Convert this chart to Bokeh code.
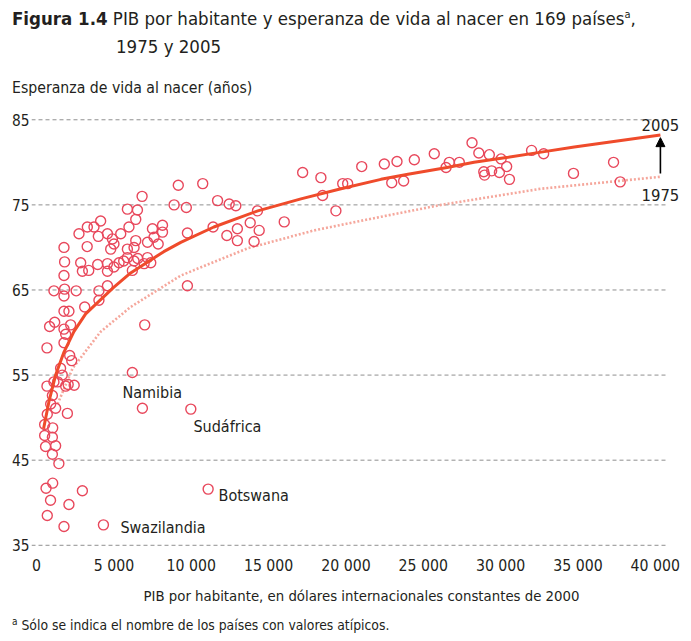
from bokeh.plotting import figure
from bokeh.layouts import column
from bokeh.models import Range1d, FixedTicker, Label, Arrow, NormalHead, Div
from bokeh.embed import file_html
from bokeh.resources import INLINE

# ---------------- data ----------------
gdp_2005 = [1770, 4320, 690, 900, 2090, 610, 1040, 2960, 11090, 1440,
            1020, 580, 1230, 520, 1020, 520, 1040, 1990, 1230, 690,
            910, 1020, 670, 1120, 1360, 1880, 2040, 2430, 1550, 1660,
            2140, 2270, 670, 1770, 1880, 1770, 840, 1170, 2200, 6990,
            1770, 2090, 3110, 4030, 1120, 1770, 2560, 4030, 4580, 9750,
            1770, 1810, 2850, 2960, 3370, 3950, 4580, 4580, 5000, 5330,
            5630, 5870, 6190, 6300, 6540, 7170, 7380, 6950, 1770, 3270,
            4790, 5870, 6300, 6410, 2740, 3280, 3710, 4140, 3990, 4580,
            4900, 5440, 5970, 6410, 5870, 6520, 6820, 7490, 8140, 8140,
            7170, 7590, 7860, 8890, 9160, 9680, 10740, 11700, 12450, 12880,
            11410, 12300, 12980, 12980, 9750, 13810, 14280, 14390, 14060, 16010,
            17200, 18380, 18490, 19350, 19790, 20110, 21020, 22480, 22960, 23300,
            23730, 24420, 25710, 26470, 26680, 27330, 28150, 28590, 29270, 28910,
            28960, 29420, 29920, 30030, 30390, 30570, 32000, 32780, 34710, 37300,
            37730, 6190, 6840, 9970, 1810, 5000]
life_2005 = [37.2, 37.4, 38.5, 40.3, 39.8, 41.7, 42.3, 41.4, 41.6, 44.6,
             45.7, 46.6, 46.7, 47.9, 47.7, 49.2, 48.8, 50.5, 51.1, 50.4,
             51.6, 52.6, 53.7, 54.2, 54.2, 53.7, 53.9, 53.8, 55.8, 55.0,
             57.3, 56.7, 58.2, 58.8, 59.8, 60.4, 60.7, 61.2, 60.9, 60.9,
             62.5, 62.5, 63.0, 63.8, 64.9, 64.3, 64.9, 64.9, 65.5, 65.5,
             66.7, 68.3, 68.2, 67.2, 67.3, 68.0, 68.1, 67.2, 67.7, 68.2,
             68.4, 68.8, 67.3, 68.4, 68.7, 68.8, 68.2, 68.1, 70.0, 70.1,
             69.8, 69.8, 70.0, 70.8, 71.6, 72.4, 72.4, 73.1, 71.3, 71.6,
             71.0, 71.6, 72.4, 73.3, 74.5, 74.4, 76.0, 72.2, 72.6, 71.8,
             70.6, 71.2, 70.4, 75.0, 77.3, 74.7, 77.5, 75.5, 75.1, 74.9,
             72.4, 71.4, 72.2, 70.8, 71.7, 72.9, 74.3, 72.0, 70.7, 73.0,
             78.8, 78.2, 76.1, 74.3, 77.5, 77.5, 79.5, 79.8, 77.6, 80.1,
             77.8, 80.3, 81.0, 79.4, 80.0, 80.0, 82.3, 81.1, 80.9, 78.9,
             78.5, 79.0, 78.8, 80.4, 79.5, 78.0, 81.4, 81.0, 78.7, 80.0,
             77.7, 55.3, 51.1, 51.0, 65.1, 70.4]

# fitted curves
fit2005_gdp = [450, 800, 1230, 1770, 2410, 3170, 4980, 6080, 7180, 8220, 9320,
               11460, 14300, 17090, 19680, 22260, 24010, 26540, 28280, 30480,
               32620, 34760, 40330]
fit2005_life = [48.7, 51.9, 55.0, 57.7, 60.1, 62.2, 65.3, 67.0, 68.3, 69.5, 70.6,
                72.4, 74.3, 75.7, 76.9, 78.0, 78.6, 79.4, 80.0, 80.6,
                81.2, 81.8, 83.2]
fit1975_gdp = [1360, 2330, 4140, 6080, 9320, 13660, 17930, 22260, 26150, 32620, 40330]
fit1975_life = [51.6, 55.8, 60.1, 63.0, 66.7, 69.9, 72.0, 73.6, 75.0, 76.9, 78.3]

outlier_names = ["Namibia", "Sudáfrica", "Botswana", "Swazilandia"]

x_ticks = [0, 5000, 10000, 15000, 20000, 25000, 30000, 35000, 40000]
x_tick_labels = ["0", "5 000", "10 000", "15 000", "20 000", "25 000",
                 "30 000", "35 000", "40 000"]
y_ticks = [35, 45, 55, 65, 75, 85]

title_bold = "Figura 1.4"
title_text = "PIB por habitante y esperanza de vida al nacer en 169 países"
title_years = "1975 y 2005"
y_title = "Esperanza de vida al nacer (años)"
x_title = "PIB por habitante, en dólares internacionales constantes de 2000"
footnote = "Sólo se indica el nombre de los países con valores atípicos."

# ---------------- layout / style ----------------
FONT = "DejaVu Sans Condensed, Liberation Sans"
CSS_FONT = "'DejaVu Sans Condensed', 'Liberation Sans', sans-serif"
INK = "#231f20"
W = 691
label_pos = {"Namibia": (5550, 52.9), "Sudáfrica": (10140, 49.0),
             "Botswana": (11760, 40.9), "Swazilandia": (5420, 37.1)}
X0, X1 = -330, 42340            # frame x extent
GRID_X0, GRID_X1 = -330, 40660  # extent of the dashed guide lines


def span(left, top, size, html, weight="normal"):
    return (f'<span style="position:absolute;left:{left}px;top:{top}px;'
            f'font-size:{size}px;line-height:1;font-weight:{weight};'
            f'white-space:nowrap;">{html}</span>')


sup = '<span style="position:relative;top:-7px;font-size:11px;">a</span>'

header_html = (
    f'<div style="position:relative;width:{W}px;height:98px;'
    f'font-family:{CSS_FONT};color:{INK};">'
    + span(12, 9.5, 18.5, f'<b>{title_bold}</b> {title_text}{sup},')
    + span(116, 37.5, 18.5, title_years)
    + span(12, 80, 15.7, y_title)
    + '</div>')
header = Div(text=header_html, width=W, height=98, margin=(0, 0, 0, 0))

footer_html = (
    f'<div style="position:relative;width:{W}px;height:31px;'
    f'font-family:{CSS_FONT};color:{INK};">'
    + span(12, 9, 13.8, '<span style="position:relative;top:-5px;font-size:10px;">a</span> '
           + footnote)
    + '</div>')
footer = Div(text=footer_html, width=W, height=31, margin=(0, 0, 0, 0))

# ---- main chart ----
p = figure(width=W, height=512,
           x_range=Range1d(X0, X1), y_range=Range1d(33.8, 87.5),
           output_backend="svg", toolbar_location=None,
           min_border_left=31, min_border_right=0,
           min_border_top=0, min_border_bottom=55)
p.outline_line_color = None
p.xgrid.visible = False
p.ygrid.visible = False
p.yaxis.ticker = FixedTicker(ticks=y_ticks)
p.xaxis.ticker = FixedTicker(ticks=x_ticks)
p.xaxis.major_label_overrides = {t: l for t, l in zip(x_ticks, x_tick_labels)}
for ax in (p.xaxis, p.yaxis):
    ax.axis_line_color = None
    ax.major_tick_line_color = None
    ax.minor_tick_line_color = None
    ax.major_tick_out = 0
    ax.major_tick_in = 0
    ax.major_label_text_font = FONT
    ax.major_label_text_color = INK
p.xaxis.major_label_text_font_size = "15.7px"
p.yaxis.major_label_text_font_size = "15.3px"
p.yaxis.major_label_standoff = 2
p.xaxis.major_label_standoff = 0
p.xaxis.axis_label = x_title
p.xaxis.axis_label_text_font = FONT
p.xaxis.axis_label_text_font_style = "normal"
p.xaxis.axis_label_text_font_size = "14.8px"
p.xaxis.axis_label_text_color = INK
p.xaxis.axis_label_standoff = 9

# dashed horizontal guides
p.segment(x0=[GRID_X0] * len(y_ticks), x1=[GRID_X1] * len(y_ticks),
          y0=y_ticks, y1=y_ticks, line_color="#8f8f8f", line_width=1,
          line_dash="4 3")

# curves and points
p.line(fit1975_gdp, fit1975_life, line_color="#f5a79c", line_width=2.6,
       line_dash="2 2")
p.scatter(gdp_2005, life_2005, marker="circle", size=10, fill_color=None,
          line_color="#e8485c", line_width=1.4)
p.line(fit2005_gdp, fit2005_life, line_color="#ef4b2b", line_width=3)


def put(f, x, y, text, size, align="left"):
    f.add_layout(Label(x=x, y=y, text=text, text_font=FONT, text_font_size=size,
                       text_color=INK, text_align=align, text_baseline="middle"))


# arrow 1975 -> 2005
p.add_layout(Arrow(end=NormalHead(size=9, fill_color="black", line_color="black"),
                   x_start=fit1975_gdp[-1], y_start=fit1975_life[-1] + 0.4,
                   x_end=fit2005_gdp[-1], y_end=fit2005_life[-1] - 0.3,
                   line_color="black", line_width=1.6))
put(p, fit2005_gdp[-1], 84.4, "2005", "16.5px", align="center")
put(p, fit1975_gdp[-1], 76.2, "1975", "16.5px", align="center")

for name in outlier_names:
    lx, ly = label_pos[name]
    put(p, lx, ly, name, "16px")

layout = column(header, p, footer)
open("out.html", "w").write(file_html(layout, INLINE))
